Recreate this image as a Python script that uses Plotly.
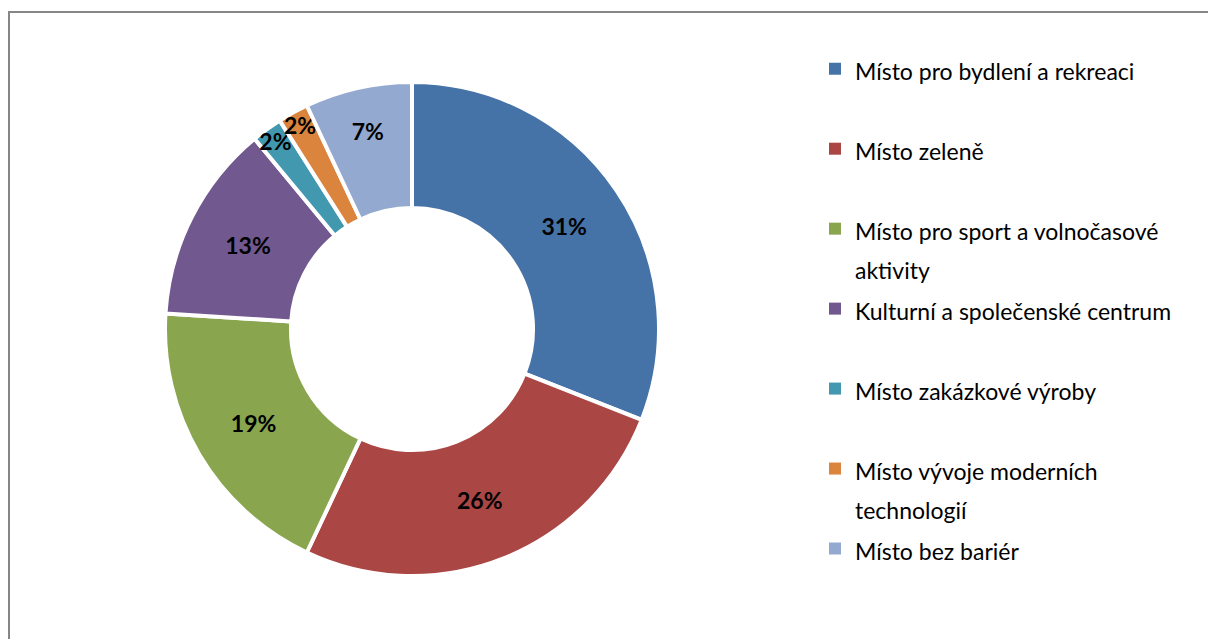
import plotly.graph_objects as go

categories = [
    ["Místo pro bydlení a rekreaci"],
    ["Místo zeleně"],
    ["Místo pro sport a volnočasové", "aktivity"],
    ["Kulturní a společenské centrum"],
    ["Místo zakázkové výroby"],
    ["Místo vývoje moderních", "technologií"],
    ["Místo bez bariér"],
]
shares = [31, 26, 19, 13, 2, 2, 7]
colors = ["#4572A7", "#AA4643", "#89A54E", "#71588F", "#4198AF", "#DB843D", "#93A9CF"]

# every legend entry gets two lines so the items come out evenly spaced (like Excel)
def legend_label(lines, n=2):
    parts = ['<span style="font-size:23px">%s</span>' % t for t in lines]
    parts += ["\u00a0"] * (n - len(lines))
    return "<br>".join(parts)

labels = [legend_label(c) for c in categories]

W, H = 1208, 639
cx, cy, r = 412, 329, 247

fig = go.Figure()
# tiny pie only used for the legend symbols (main pie has white borders that shrink them)
fig.add_trace(go.Pie(
    labels=labels, values=shares, sort=False,
    marker=dict(colors=colors, line=dict(width=0)),
    textinfo="none", hoverinfo="skip",
    domain=dict(x=[0.02, 0.0205], y=[0.5, 0.5005]),
    showlegend=True,
))
fig.add_trace(go.Pie(
    labels=labels,
    values=shares,
    sort=False,
    direction="clockwise",
    rotation=0,
    hole=0.49,
    marker=dict(colors=colors, line=dict(color="white", width=4)),
    texttemplate="%{value}%",
    textposition="inside",
    insidetextorientation="horizontal",
    textfont=dict(family="Lato", size=23, color="black", weight="bold"),
    domain=dict(x=[(cx - r) / W, (cx + r) / W], y=[1 - (cy + r) / H, 1 - (cy - r) / H]),
    hoverinfo="percent",
    showlegend=False,
))

fig.update_layout(
    width=W, height=H,
    margin=dict(l=0, r=0, t=0, b=0),
    paper_bgcolor="white",
    uniformtext=dict(minsize=23, mode="show"),
    legend=dict(
        x=815 / W, xanchor="left",
        y=1 - 43 / H, yanchor="top",
        valign="top",
        font=dict(family="Lato", size=29.6, color="#000000"),
        bgcolor="rgba(0,0,0,0)",
    ),
    shapes=[dict(type="rect", xref="paper", yref="paper",
                 x0=9 / W, x1=1.05, y0=-0.05, y1=1 - 12 / H,
                 line=dict(color="#868686", width=2))],
)

fig.write_html("out.html", config={"displayModeBar": False},
               post_script="document.body.style.margin='0';")
